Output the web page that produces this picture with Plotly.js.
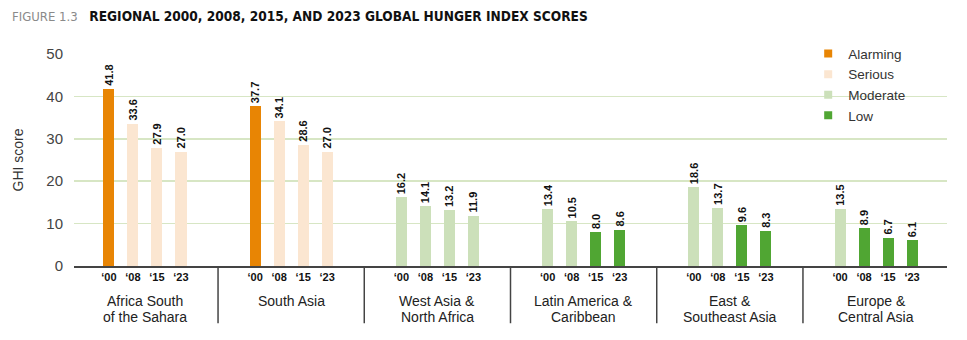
<!DOCTYPE html>
<html>
<head>
<meta charset="utf-8">
<script src="https://cdn.plot.ly/plotly-3.0.1.min.js"></script>
<style>html,body{margin:0;padding:0;background:#fff;}#chart{width:967px;height:340px;}</style>
</head>
<body>
<div id="chart"></div>
<script>
// ---- data ----
const regions = ["Africa South<br>of the Sahara", "South Asia", "West Asia &<br>North Africa", "Latin America &<br>Caribbean", "East &<br>Southeast Asia", "Europe &<br>Central Asia"];
const yearLabels = ["\u201800", "\u201808", "\u201815", "\u201823"];
const ghi2000 = [41.8, 37.7, 16.2, 13.4, 18.6, 13.5];
const ghi2008 = [33.6, 34.1, 14.1, 10.5, 13.7, 8.9];
const ghi2015 = [27.9, 28.6, 13.2, 8.0, 9.6, 6.7];
const ghi2023 = [27.0, 27.0, 11.9, 8.6, 8.3, 6.1];
const severityNames = ["Alarming", "Serious", "Moderate", "Low"];
const severityMin = [35, 20, 10, 0];
const severityColors = ["#E88504", "#FBE6D1", "#CCE0BA", "#50A633"];

// ---- build ----
const seriesByYear = [ghi2000, ghi2008, ghi2015, ghi2023];
const barStep = 0.1642;
const barWidth = 0.076;
const font = "Liberation Sans, Arial, sans-serif";
function colorFor(v) {
  for (let i = 0; i < severityMin.length; i++) if (v >= severityMin[i]) return severityColors[i];
  return severityColors[severityColors.length - 1];
}
const traces = [];
const tickvals = [], ticktext = [];
seriesByYear.forEach((vals, k) => {
  const xs = vals.map((v, g) => g + 0.5 + (k - 1.5) * barStep);
  xs.forEach(x => { tickvals.push(x); ticktext.push(yearLabels[k]); });
  traces.push({
    type: "bar", x: xs, y: vals, width: barWidth,
    marker: { color: vals.map(colorFor), line: { width: 0 } },
    texttemplate: "%{y:.1f}", textposition: "outside", textangle: -90,
    constraintext: "none", cliponaxis: false,
    textfont: { family: font, size: 11, color: "#111", weight: 700 },
    showlegend: false, hoverinfo: "x+y"
  });
});
severityNames.forEach((n, i) => {
  traces.push({
    type: "scatter", mode: "markers", x: [null], y: [null], name: n,
    marker: { symbol: "square", size: 8, color: severityColors[i] }, hoverinfo: "skip"
  });
});

const shapes = [];
for (let g = 1; g < regions.length; g++) {
  shapes.push({ type: "line", xref: "x", yref: "paper", x0: g, x1: g, y0: 0, y1: -0.27, line: { color: "#444", width: 1.5 } });
}
shapes.push({ type: "rect", xref: "paper", yref: "paper", x0: 0.853, x1: 1.0, y0: 0.66, y1: 1.06, fillcolor: "#fff", line: { width: 0 }, layer: "between" });

const annotations = [];
regions.forEach((r, g) => {
  r.split("<br>").forEach((line, li) => {
    annotations.push({
      xref: "x", yref: "paper", x: g + 0.5, y: -0.165 - li * 0.0755,
      text: line, showarrow: false, xanchor: "center", yanchor: "middle",
      font: { family: font, size: 14, color: "#222" }
    });
  });
});

const layout = {
  width: 967, height: 340,
  margin: { l: 74, r: 20, t: 54, b: 74 },
  paper_bgcolor: "#fff", plot_bgcolor: "#fff",
  font: { family: font, color: "#333" },
  title: {
    text: "<span style='color:#8a8a8a;font-size:13px'>FIGURE 1.3</span>\u00a0\u00a0\u00a0<b>REGIONAL 2000, 2008, 2015, AND 2023 GLOBAL HUNGER INDEX SCORES</b>",
    font: { family: "Liberation Sans Narrow, DejaVu Sans Condensed, Arial Narrow, sans-serif", size: 13.6, color: "#111" },
    x: 12 / 967, xref: "container", xanchor: "left",
    y: 1 - 16 / 340, yref: "container", yanchor: "middle"
  },
  xaxis: {
    range: [0.015, 5.985], tickvals: tickvals, ticktext: ticktext,
    showline: true, linecolor: "#444", linewidth: 1.5, ticks: "",
    showgrid: false, zeroline: false, fixedrange: true,
    tickfont: { family: font, size: 11, color: "#111", weight: 700 }
  },
  yaxis: {
    range: [0, 50], dtick: 10, showgrid: true, gridcolor: "#D7E6C4", gridwidth: 1.5,
    zeroline: false, showline: false, ticks: "", ticklabelstandoff: 10,
    tickfont: { family: font, size: 15, color: "#444" },
    title: { text: "GHI score", font: { family: font, size: 14, color: "#333" }, standoff: 19 }
  },
  legend: {
    x: 0.841, y: 1.074, xanchor: "left", yanchor: "top",
    bgcolor: "rgba(0,0,0,0)", font: { family: font, size: 13.5, color: "#333" },
    itemwidth: 30, tracegroupgap: 0
  },
  shapes: shapes,
  annotations: annotations,
  bargap: 0
};
Plotly.newPlot("chart", traces, layout, { displayModeBar: false, staticPlot: true });
</script>
</body>
</html>
